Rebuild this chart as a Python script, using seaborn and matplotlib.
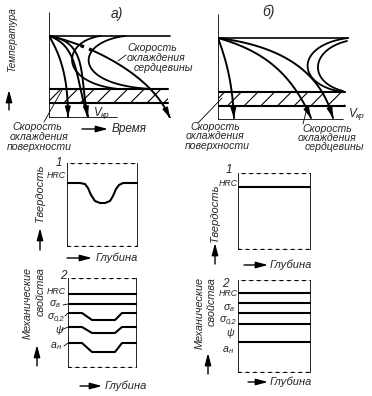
import numpy as np
import matplotlib
matplotlib.use("Agg")
import matplotlib.pyplot as plt
from matplotlib.bezier import BezierSegment
import seaborn as sns

# Hardening diagrams: cooling curves (top), hardness and mechanical
# properties over the depth of the part (middle, bottom). a) / б)

# --- а) cooling diagram, control points (time, temperature) ---
a_surface = [(0, 82), (12, 62), (19, 40), (19, 1)]
a_middle = [(0, 82), (30, 72), (26, 40), (39, 1)]
a_vkr = [(0, 82), (40, 76), (30, 40), (39, 1)]
a_core = [(0, 82), (31, 76), (101, 48), (121, 0)]
a_c_start = [(51, 82), (13, 76), (9, 36), (69, 29)]
a_c_end = [(76, 82), (26, 76), (21, 33), (103, 29)]
a_levels = [82, 29, 15]          # A1, martensite band top / bottom

# --- б) cooling diagram ---
b_surface = [(0, 82), (8, 60), (14, 40), (16, 2)]
b_middle = [(0, 82), (42, 70), (72, 50), (93, 2)]
b_core = [(0, 82), (62, 74), (102, 50), (115, 2)]
b_c_start = [(130, 82), (77, 75), (77, 35), (125, 28)]
b_c_end = [(129, 79), (92, 70), (90, 38), (125, 29)]
b_levels = [82, 28, 14]

# --- hardness over depth ---
hrc_depth_a = [0, 13, 18, 21, 24, 28, 33, 38, 43, 46, 49, 52, 56, 71]
hrc_a = [64, 64, 63, 59, 52, 46, 44, 44, 46, 51, 58, 62, 64, 64]
hrc_depth_b = [0, 73]
hrc_b = [63, 63]

# --- mechanical properties over depth ---
mech_depth_a = [0, 14, 24, 47, 54, 69]
mech_a_hrc = [74, 74, 74, 74, 74, 74]
mech_a_sb = [64, 64, 64, 64, 64, 64]
mech_a_s02 = [55, 55, 48, 48, 55, 55]
mech_a_psi = [41, 41, 35, 35, 41, 41]
mech_a_an = [25, 25, 16, 16, 25, 25]

mech_depth_b = [0, 73]
mech_b_hrc = [80, 80]
mech_b_sb = [70, 70]
mech_b_s02 = [60, 60]
mech_b_psi = [49, 49]
mech_b_an = [31, 31]

sns.set_theme(style="white")
plt.rcParams["font.family"] = ["Liberation Sans", "DejaVu Sans"]
plt.rcParams["hatch.linewidth"] = 0.8

W, H = 372, 396
fig = plt.figure(figsize=(W / 100, H / 100), dpi=100)


def panel(x0, y0, w, h):
    # x0, y0 = lower-left corner in picture pixels
    ax = fig.add_axes([x0 / W, 1 - y0 / H, w / W, h / H])
    ax.axis("off")
    ax.lim = (w, h)
    return ax


def line(ax, x, y, lw=1.3, ls="-"):
    sns.lineplot(x=np.asarray(x, float), y=np.asarray(y, float), ax=ax,
                 sort=False, estimator=None, color="black", lw=lw,
                 linestyle=ls)


def bez(ctrl, t0=0.0, t1=1.0, n=60):
    p = BezierSegment(np.array(ctrl, float))(np.linspace(t0, t1, n))
    return p[:, 0], p[:, 1]


def arrow(ax, x0, y0, x1, y1, lw=1.0, hl=0.5, hw=0.14):
    ax.annotate("", xy=(x1, y1), xytext=(x0, y0),
                arrowprops=dict(arrowstyle=f"-|>,head_length={hl},head_width={hw}",
                                color="black", lw=lw, shrinkA=0, shrinkB=0))


def curve(ax, ctrl, tip=True, lw=1.4):
    x, y = bez(ctrl)
    line(ax, x, y, lw)
    if tip:
        arrow(ax, x[-6], y[-6], x[-1], y[-1])


def wavy(ax, x0, x1, y):
    x = np.linspace(x0, x1, 90)
    line(ax, x, y + 0.7 * np.sin(x / 1.2), lw=0.85)


def cooling(ax, levels, width, band_w, bottom_w):
    a1, top, bot = levels
    line(ax, [0, 0], [0, 105], lw=1.2)
    line(ax, [0, bottom_w], [0, 0], lw=1.2)
    line(ax, [0, width], [a1, a1], lw=1.2)
    line(ax, [0, band_w], [top, top], lw=1.5)
    line(ax, [0, band_w], [bot, bot], lw=1.5)
    ax.fill_between([0, band_w], bot, top, facecolor="none",
                    edgecolor="black", hatch="//", linewidth=0)


# ---------- а) top ----------
ax = panel(49, 118, 130, 110)
cooling(ax, a_levels, 121, 119, 68)
curve(ax, a_surface)
curve(ax, a_middle, tip=False)
curve(ax, a_vkr)
curve(ax, a_c_start, tip=False, lw=1.3)
curve(ax, a_c_end, tip=False, lw=1.3)
x, y = bez(a_core, 0.0, 0.27)
line(ax, x, y, 1.4)
x, y = bez(a_core, 0.27, 0.36, 10)
line(ax, x, y, 2.4, ":")
x, y = bez(a_core, 0.36, 1.0)
line(ax, x, y, 1.4)
arrow(ax, x[-6], y[-6], x[-1], y[-1])

# ---------- б) top ----------
bx = panel(218, 120, 145, 110)
cooling(bx, b_levels, 130, 127, 125)
curve(bx, b_surface)
curve(bx, b_middle)
curve(bx, b_core)
curve(bx, b_c_start, tip=False, lw=1.3)
curve(bx, b_c_end, tip=False, lw=1.3)

# ---------- hardness ----------
for x0, y0, w, h, d, v in [(67, 247, 71, 84, hrc_depth_a, hrc_a),
                           (238, 250, 73, 77, hrc_depth_b, hrc_b)]:
    hx = panel(x0, y0, w, h)
    line(hx, [0, 0], [0, h], lw=1.2)
    line(hx, [w, w], [0, h], lw=1.2)
    wavy(hx, 0, w, h)
    wavy(hx, 0, w, 0)
    line(hx, d, v, lw=1.5)

# ---------- mechanical properties ----------
for x0, y0, w, h, d, rows in [
        (68, 368, 69, 90, mech_depth_a,
         [mech_a_hrc, mech_a_sb, mech_a_s02, mech_a_psi, mech_a_an]),
        (238, 373, 73, 93, mech_depth_b,
         [mech_b_hrc, mech_b_sb, mech_b_s02, mech_b_psi, mech_b_an])]:
    mx = panel(x0, y0, w, h)
    line(mx, [0, 0], [0, h], lw=1.2)
    line(mx, [w, w], [0, h], lw=1.2)
    wavy(mx, 0, w, h)
    wavy(mx, 0, w, 0)
    for r in rows:
        line(mx, d, r, lw=1.5)

for a in fig.axes:
    a.set_xlim(0, a.lim[0])
    a.set_ylim(0, a.lim[1])

# ---------- text layer (picture pixels) ----------
lay = fig.add_axes([0, 0, 1, 1])
lay.set_xlim(0, W)
lay.set_ylim(H, 0)
lay.axis("off")

LBL = 7.6


def txt(x, y, s, size=LBL, **kw):
    kw.setdefault("va", "center")
    lay.text(x, y, s, fontsize=size, style="italic", **kw)


def sub(x, y, base, low, size=LBL):
    txt(x, y, base, size)
    lay.text(x + size * 0.75, y + 2.5, low, fontsize=size * 0.72,
             style="italic", va="center")


def lead(x0, y0, x1, y1):
    lay.plot([x0, x1], [y0, y1], color="black", lw=0.6)


def larrow(x0, y0, x1, y1):
    lay.annotate("", xy=(x1, y1), xytext=(x0, y0),
                 arrowprops=dict(arrowstyle="-|>,head_length=0.6,head_width=0.16",
                                 color="black", lw=1.0, shrinkA=0, shrinkB=0))


# а) top
txt(12, 40, "Температура", 7.2, rotation=90, ha="center")
larrow(9, 110, 9, 90)
txt(117, 14, "а)", 10, ha="center")
txt(127, 48, "Скорость")
txt(127, 58, "охлаждения")
txt(134, 68, "сердцевины")
lead(118, 61, 126, 55)
sub(94, 113, "V", "кр", 8.5)
larrow(82, 129, 108, 129)
txt(112, 129, "Время", 8.5)
txt(12, 127, "Скорость")
txt(10, 137, "охлаждения")
txt(7, 147, "поверхности")
lead(44, 122, 62, 90)

# б) top
txt(268, 12, "б)", 10, ha="center")
txt(190, 127, "Скорость")
txt(186, 136, "охлаждения")
txt(185, 146, "поверхности")
lead(198, 123, 222, 98)
txt(302, 129, "Скорость")
txt(298, 138, "охлаждения")
txt(305, 147, "сердцевины")
lead(303, 124, 307, 108)
sub(349, 114, "V", "кр", 8.5)

# hardness
txt(40, 193, "Твердость", 8, rotation=90, ha="center")
larrow(40, 250, 40, 228)
txt(59, 163, "1", 8.5, ha="center")
txt(66, 175, "HRC", 6.3, ha="right")
larrow(67, 258, 92, 258)
txt(96, 258, "Глубина", 8)

txt(215, 213, "Твердость", 8, rotation=90, ha="center")
larrow(215, 264, 215, 243)
txt(229, 170, "1", 8.5, ha="center")
txt(238, 184, "HRC", 6.3, ha="right")
larrow(244, 265, 268, 265)
txt(270, 265, "Глубина", 8)

# mechanical properties
txt(28, 267, "Механические", 7.8, rotation=90, ha="center", va="top")
txt(41, 267, "свойства", 7.8, rotation=90, ha="center", va="top")
larrow(37, 366, 37, 345)
txt(63, 276, "2", 8.5, ha="center")
txt(66, 292, "HRC", 6.3, ha="right")
sub(50, 303, "σ", "в")
sub(48, 316, "σ", "0,2")
txt(55, 330, "ψ")
sub(51, 345, "a", "н")
lead(63, 305, 68, 304)
lead(65, 316, 68, 313)
lead(61, 330, 68, 327)
lead(64, 346, 68, 343)
larrow(80, 386, 102, 386)
txt(105, 386, "Глубина", 8)

txt(200, 277, "Механические", 7.8, rotation=90, ha="center", va="top")
txt(212, 277, "свойства", 7.8, rotation=90, ha="center", va="top")
larrow(208, 374, 208, 353)
txt(225, 284, "2", 8.5, ha="center")
txt(238, 293, "HRC", 6.3, ha="right")
sub(224, 307, "σ", "в")
sub(220, 319, "σ", "0,2")
txt(226, 333, "ψ")
sub(223, 349, "a", "н")
larrow(248, 382, 268, 382)
txt(270, 382, "Глубина", 8)

fig.savefig("out.png", dpi=100, facecolor="white")
